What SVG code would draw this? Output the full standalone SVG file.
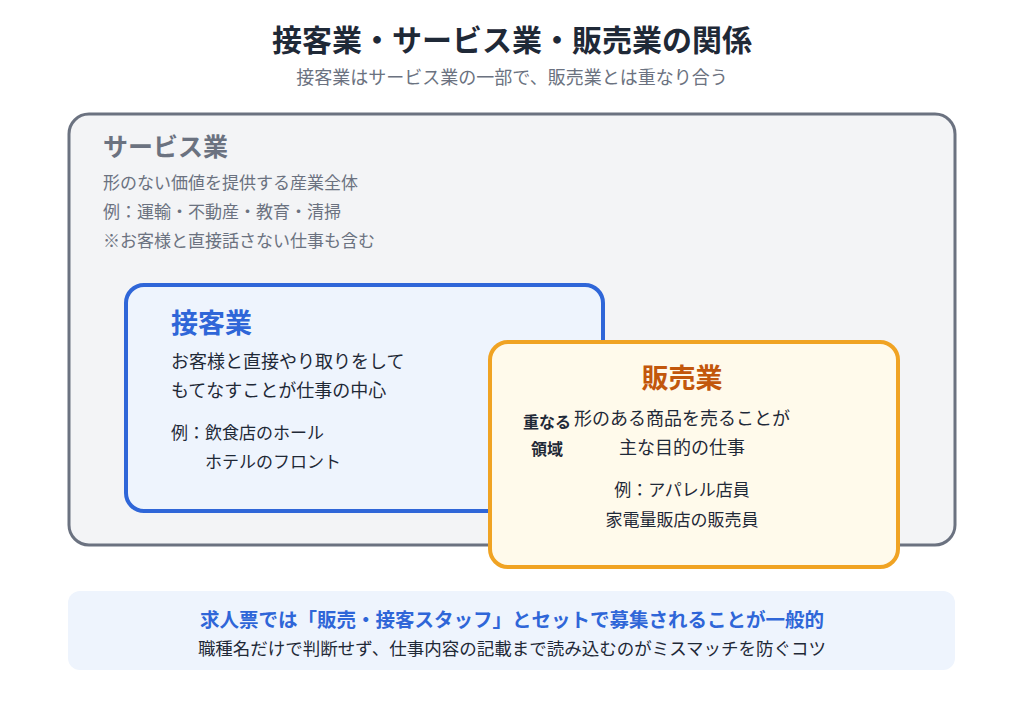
<svg xmlns="http://www.w3.org/2000/svg" width="1024" height="705" viewBox="0 0 1024 705">
<style>
text{font-family:"Noto Sans CJK JP","Noto Sans",sans-serif;}
.t{font-size:30px;font-weight:700;fill:#1f2937;text-anchor:middle;}
.st{font-size:18px;fill:#6b7280;text-anchor:middle;}
.sh{font-size:25px;font-weight:700;fill:#6b7280;}
.sb{font-size:17px;fill:#6b7280;}
.bh{font-size:27px;font-weight:700;fill:#2f66d8;}
.body{font-size:18px;fill:#1f2937;}
.ex{font-size:17px;fill:#1f2937;}
.oh{font-size:27px;font-weight:700;fill:#c2570c;text-anchor:middle;}
.ov{font-size:16px;font-weight:700;fill:#1f2937;text-anchor:middle;}
.m{text-anchor:middle;}
.n1{font-size:19.5px;font-weight:700;fill:#2f66d8;text-anchor:middle;}
.n2{font-size:17.5px;fill:#1f2937;text-anchor:middle;}
</style>
<rect width="1024" height="705" fill="#ffffff"/>
<g id="title">
<text class="t" x="512" y="51">接客業・サービス業・販売業の関係</text>
<text class="st" x="512" y="84">接客業はサービス業の一部で、販売業とは重なり合う</text>
</g>
<g id="service">
<rect x="69" y="114" width="886" height="431" rx="20" fill="#f3f4f6" stroke="#6b7280" stroke-width="3"/>
<text class="sh" x="103" y="156">サービス業</text>
<text class="sb" x="103" y="189">形のない価値を提供する産業全体</text>
<text class="sb" x="103" y="218">例：運輸・不動産・教育・清掃</text>
<text class="sb" x="103" y="247">※お客様と直接話さない仕事も含む</text>
</g>
<g id="sekkyaku">
<rect x="126" y="285" width="477" height="226" rx="18" fill="#eef4fd" stroke="#2f66d8" stroke-width="4"/>
<text class="bh" x="171" y="333">接客業</text>
<text class="body" x="171" y="368">お客様と直接やり取りをして</text>
<text class="body" x="171" y="397">もてなすことが仕事の中心</text>
<text class="ex" x="171" y="439">例：飲食店のホール</text>
<text class="ex" x="205" y="468">ホテルのフロント</text>
</g>
<g id="hanbai">
<rect x="490" y="342" width="408" height="225" rx="18" fill="#fffaeb" stroke="#f0a323" stroke-width="4"/>
<text class="oh" x="682" y="388">販売業</text>
<text class="ov" x="547" y="428">重なる</text>
<text class="ov" x="547" y="455">領域</text>
<text class="body m" x="682" y="425">形のある商品を売ることが</text>
<text class="body m" x="682" y="454">主な目的の仕事</text>
<text class="ex m" x="682" y="496">例：アパレル店員</text>
<text class="ex m" x="682" y="526">家電量販店の販売員</text>
</g>
<g id="connectors"></g>
<g id="note">
<rect x="68" y="591" width="887" height="79" rx="12" fill="#eef4fd"/>
<text class="n1" x="512" y="627">求人票では「販売・接客スタッフ」とセットで募集されることが一般的</text>
<text class="n2" x="512" y="655">職種名だけで判断せず、仕事内容の記載まで読み込むのがミスマッチを防ぐコツ</text>
</g>
</svg>
